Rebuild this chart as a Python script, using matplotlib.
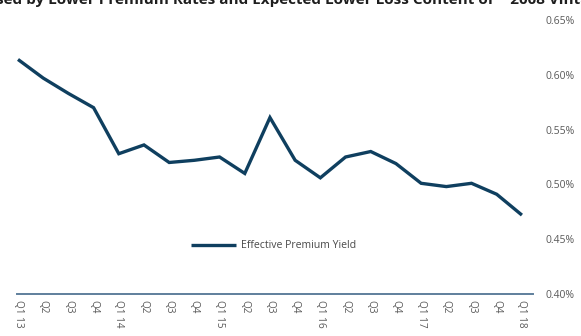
import matplotlib
matplotlib.use("Agg")
import matplotlib.pyplot as plt
from matplotlib.ticker import FuncFormatter

quarters = ["Q1 13", "Q2", "Q3", "Q4",
            "Q1 14", "Q2", "Q3", "Q4",
            "Q1 15", "Q2", "Q3", "Q4",
            "Q1 16", "Q2", "Q3", "Q4",
            "Q1 17", "Q2", "Q3", "Q4",
            "Q1 18"]
premium_yield = [0.614, 0.597, 0.583, 0.570,
                 0.528, 0.536, 0.520, 0.522,
                 0.525, 0.510, 0.561, 0.522,
                 0.506, 0.525, 0.530, 0.519,
                 0.501, 0.498, 0.501, 0.491,
                 0.472]
y_ticks = [0.40, 0.45, 0.50, 0.55, 0.60, 0.65]
series_name = "Effective Premium Yield"
title_text = "Caused by Lower Premium Rates and Expected Lower Loss Content of ~ 2008 Vintages"

W, H = 581, 336
fig = plt.figure(figsize=(W / 100, H / 100), dpi=100)
ax = fig.add_axes([17 / W, 42 / H, 516 / W, 274 / H])

line_color = "#0f3f5f"
text_color = "#5a5a5a"
font = "Open Sans"

x = list(range(len(quarters)))
ax.plot(x, premium_yield, color=line_color, lw=2.4, solid_joinstyle="miter",
        solid_capstyle="butt")

ax.set_xlim(-0.04, 20.44)
ax.set_ylim(0.40, 0.65)

ax.set_xticks(x)
ax.set_xticklabels(quarters, rotation=-90, fontsize=7.2, color=text_color,
                   family=font, va="top", ha="center")
ax.set_yticks(y_ticks)
ax.yaxis.set_major_formatter(FuncFormatter(lambda v, _: f"{v:.2f}%"))
ax.yaxis.tick_right()
for lbl in ax.get_yticklabels():
    lbl.set_fontsize(7.5)
    lbl.set_color(text_color)
    lbl.set_family(font)
ax.tick_params(axis="both", length=0)
ax.tick_params(axis="y", pad=9)
ax.tick_params(axis="x", pad=4)

for side in ("top", "left", "right"):
    ax.spines[side].set_visible(False)
ax.spines["bottom"].set_color("#5f7f9c")
ax.spines["bottom"].set_linewidth(1.4)

# legend entry drawn inside the plot area
ax.plot([6.85, 8.65], [0.4445, 0.4445], color=line_color, lw=2.4,
        solid_capstyle="butt")
ax.text(8.85, 0.4445, series_name, fontsize=7.6, color="#4a4a4a",
        family=font, va="center", ha="left")

# headline running off the top edge
fig.text(-33 / W, 1 - 4 / H, title_text, fontsize=11, fontweight="bold",
         color="#1e1e1e", family=font, va="baseline", ha="left")

fig.savefig("out.png", dpi=100)
